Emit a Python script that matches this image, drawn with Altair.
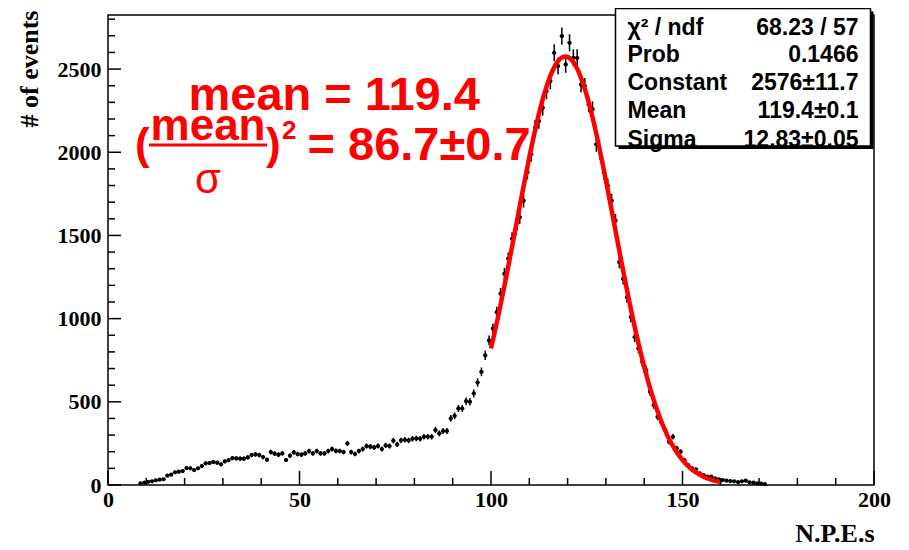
import altair as alt
import pandas as pd

# ---------------- data ----------------
first_bin = 8  # first non-empty bin (bin width 1 N.P.E.)
counts = [
    10, 14, 19, 22, 28, 32, 34, 56, 62, 76,
    80, 84, 102, 100, 90, 100, 114, 130, 132, 138,
    134, 124, 142, 150, 162, 160, 158, 158, 166, 180,
    184, 180, 168, 152, 198, 188, 182, 190, 150, 176,
    196, 186, 182, 190, 204, 190, 204, 190, 190, 204,
    216, 205, 204, 198, 250, 198, 186, 204, 216, 234,
    230, 226, 234, 216, 238, 234, 266, 244, 268, 272,
    268, 278, 280, 278, 290, 290, 290, 330, 310, 324,
    324, 400, 416, 460, 460, 504, 500, 550, 616, 680,
    779, 869, 940, 1039, 1150, 1269, 1360, 1480, 1540, 1609,
    1709, 1880, 1988, 2148, 2188, 2268, 2368, 2428, 2598, 2518,
    2698, 2528, 2658, 2568, 2568, 2408, 2398, 2288, 2258, 2048,
    1998, 1880, 1800, 1709, 1589, 1339, 1240, 1129, 1010, 889,
    820, 740, 690, 560, 480, 410, 376, 330, 260, 290,
    220, 200, 150, 120, 100, 94, 70, 60, 50, 50,
    40, 34, 30, 26, 24, 22, 18, 22, 26, 16,
    14, 10, 8, 5,
]
bin_centers = [first_bin + i + 0.5 for i in range(len(counts))]

fit_x = [100, 102, 104, 106, 108, 110, 112, 114, 116, 118, 119.4, 120, 122, 124,
         126, 128, 130, 132, 134, 136, 138, 140, 142, 144, 146, 148, 150, 152,
         154, 156, 158, 160]
fit_y = [821, 1027, 1253, 1493, 1736, 1970, 2181, 2358, 2487, 2561, 2576, 2573,
         2524, 2416, 2257, 2058, 1831, 1590, 1348, 1115, 901, 710, 546, 410, 300,
         215, 150, 102, 68, 44, 28, 17]

x_labels = [0, 50, 100, 150, 200]
y_labels = [0, 500, 1000, 1500, 2000, 2500]
x_minor = [v for v in range(10, 200, 10) if v % 50 != 0]
y_minor = [v for v in range(100, 2900, 100) if v % 500 != 0]

stats_names = ["χ² / ndf", "Prob", "Constant", "Mean", "Sigma"]
stats_values = ["68.23 / 57", "0.1466", "2576±11.7", "119.4±0.1", "12.83±0.05"]

# ---------------- layout ----------------
W, H = 766, 470
XMAX, YMAX = 200, 2825
SANS = "Liberation Sans"
SERIF = "Liberation Serif"

hist = pd.DataFrame({"npe": bin_centers, "n": counts})
fit = pd.DataFrame({"fx": fit_x, "fy": fit_y})

xs = alt.Scale(domain=[0, XMAX], nice=False, zero=False)
ys = alt.Scale(domain=[0, YMAX], nice=False)

x_axis = alt.Axis(values=x_labels, format="d", ticks=False, domain=False,
                  grid=False,
                  labelFont=SERIF, labelFontWeight="bold", labelFontSize=22,
                  labelColor="black", labelPadding=4, labelFlush=False,
                  labelOverlap=False,
                  title="N.P.E.s", titleFont=SERIF, titleFontWeight="bold",
                  titleFontSize=26, titleColor="black", titleX=W, titleY=56,
                  titleAlign="right", titleBaseline="alphabetic")
y_axis = alt.Axis(values=y_labels, format="d", ticks=False, domain=False,
                  grid=False,
                  labelFont=SERIF, labelFontWeight="bold", labelFontSize=22,
                  labelColor="black", labelPadding=7, labelFlush=False,
                  labelOverlap=False,
                  title="# of events", titleFont=SERIF, titleFontWeight="bold",
                  titleFontSize=26, titleColor="black", titleAngle=270,
                  titleX=-79, titleY=-5, titleAlign="right",
                  titleBaseline="middle")


def X(field):
    return alt.X(field, scale=xs, axis=x_axis)


def Y(field):
    return alt.Y(field, scale=ys, axis=y_axis)


base = alt.Chart(hist).transform_calculate(
    lo="max(0, datum.n - sqrt(datum.n))",
    hi="datum.n + sqrt(datum.n)",
    xl="datum.npe - 0.5",
    xh="datum.npe + 0.5",
)

vbars = base.mark_rule(color="black", strokeWidth=1.5).encode(
    x=X("npe:Q"), y=Y("lo:Q"), y2="hi:Q",
)
hbars = base.mark_rule(color="black", strokeWidth=1).encode(
    x=X("xl:Q"), x2="xh:Q", y=Y("n:Q"),
)
points = base.mark_circle(color="black", opacity=1, size=18).encode(
    x=X("npe:Q"), y=Y("n:Q"),
)

fit_line = alt.Chart(fit).mark_line(color="#ff0000", strokeWidth=4.5,
                                    interpolate="monotone").encode(
    x=X("fx:Q"), y=Y("fy:Q"),
)

# tick marks drawn inside the frame, ROOT style
xt_major = alt.Chart(pd.DataFrame({"v": x_labels})).mark_rule(
    color="black", strokeWidth=1.5).encode(
    x=X("v:Q"), y=alt.value(H), y2=alt.value(H - 14))
xt_minor = alt.Chart(pd.DataFrame({"v": x_minor})).mark_rule(
    color="black", strokeWidth=1.5).encode(
    x=X("v:Q"), y=alt.value(H), y2=alt.value(H - 7))
yt_major = alt.Chart(pd.DataFrame({"v": y_labels})).mark_rule(
    color="black", strokeWidth=1.5).encode(
    y=Y("v:Q"), x=alt.value(0), x2=alt.value(13))
yt_minor = alt.Chart(pd.DataFrame({"v": y_minor})).mark_rule(
    color="black", strokeWidth=1.5).encode(
    y=Y("v:Q"), x=alt.value(0), x2=alt.value(7))


def label(text, px, py, size, color="#ff0000", align="left", weight="bold",
          font=SANS):
    return alt.Chart(pd.DataFrame({"t": [text]})).mark_text(
        align=align, baseline="alphabetic", font=font, fontSize=size,
        fontWeight=weight, color=color).encode(
        text="t:N", x=alt.value(px), y=alt.value(py))


one = pd.DataFrame({"a": [0]})
frac_bar = alt.Chart(one).mark_rule(color="#ff0000", strokeWidth=3).encode(
    x=alt.value(41), x2=alt.value(159), y=alt.value(130))

annotations = [
    label("mean = 119.4", 80.5, 95, 47),
    label("(", 27, 144, 44),
    label("mean", 100, 125, 44, align="center"),
    label("σ", 100, 178, 42, align="center", weight="normal"),
    label(")", 158, 144, 44),
    label("2", 174, 124, 26),
    label("= 86.7±0.7", 199.5, 145, 47),
]

# statistics box
box_l, box_r, box_t, box_b = 507.5, 762.5, -6.5, 131
shadow = alt.Chart(one).mark_rect(color="black").encode(
    x=alt.value(box_l + 3), x2=alt.value(box_r + 3),
    y=alt.value(box_t + 3), y2=alt.value(box_b + 3))
box = alt.Chart(one).mark_rect(fill="white", stroke="black",
                               strokeWidth=1.5).encode(
    x=alt.value(box_l), x2=alt.value(box_r),
    y=alt.value(box_t), y2=alt.value(box_b))
stat_baselines = [20, 47, 75, 103, 132]
stat_texts = []
for name, val, by in zip(stats_names, stats_values, stat_baselines):
    stat_texts.append(label(name, 519.5, by, 23, color="black"))
    stat_texts.append(label(val, 750.5, by, 23, color="black", align="right"))

chart = alt.layer(
    vbars, hbars, points, fit_line,
    xt_major, xt_minor, yt_major, yt_minor,
    frac_bar, *annotations,
    shadow, box, *stat_texts,
).properties(
    width=W, height=H,
    autosize="none",
    padding={"left": 100, "top": 7, "right": 20, "bottom": 64},
    background="white",
).configure_view(
    stroke="black", strokeWidth=1.5
)

chart.save("out.html", embed_options={"renderer": "svg", "actions": False})
